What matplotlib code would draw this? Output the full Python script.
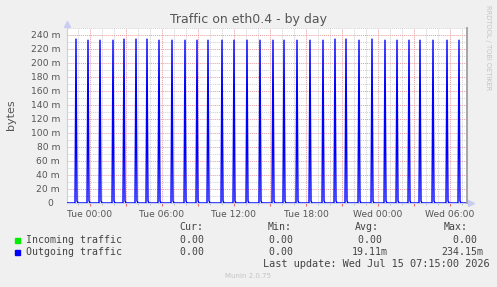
import matplotlib
matplotlib.use("Agg")
import pandas as pd
import matplotlib.pyplot as plt
import matplotlib.dates as mdates
from matplotlib.ticker import MultipleLocator, FuncFormatter

W, H = 497, 287

# time window of the graph (5 minute samples)
start = pd.Timestamp("2026-07-13 22:05")
end = pd.Timestamp("2026-07-15 07:25")

# outgoing traffic spikes, values in milli-bytes
spike_times = [
    "2026-07-13 22:50", "2026-07-13 23:50", "2026-07-14 00:50", "2026-07-14 01:55",
    "2026-07-14 02:50", "2026-07-14 03:50", "2026-07-14 04:45", "2026-07-14 05:45",
    "2026-07-14 06:50", "2026-07-14 07:55", "2026-07-14 08:55", "2026-07-14 09:50",
    "2026-07-14 11:00", "2026-07-14 12:00", "2026-07-14 13:05", "2026-07-14 14:10",
    "2026-07-14 15:15", "2026-07-14 16:10", "2026-07-14 17:15", "2026-07-14 18:20",
    "2026-07-14 19:25", "2026-07-14 20:25", "2026-07-14 21:20", "2026-07-14 22:25",
    "2026-07-14 23:30", "2026-07-15 00:35", "2026-07-15 01:35", "2026-07-15 02:35",
    "2026-07-15 03:30", "2026-07-15 04:35", "2026-07-15 05:45", "2026-07-15 06:45",
]
spike_peaks_m = [
    234.15, 232.6, 232.6, 232.6, 234.15, 234.15, 234.15, 232.6,
    232.6, 232.6, 232.6, 232.6, 232.6, 232.6, 232.6, 232.6,
    232.6, 232.6, 232.6, 232.6, 232.6, 234.15, 234.15, 232.6,
    234.15, 232.6, 232.6, 232.6, 232.6, 232.6, 232.6, 232.6,
]
tail_m = 3.0
incoming_m = 0.0

legend_names = ["Incoming traffic", "Outgoing traffic"]
legend_colors = ["#00ee00", "#0000ff"]
col_heads = ["Cur:", "Min:", "Avg:", "Max:"]
col_values = [
    ["0.00 ", "0.00 ", "0.00 ", "0.00 "],
    ["0.00 ", "0.00 ", "19.11m", "234.15m"],
]
last_update = "Last update: Wed Jul 15 07:15:00 2026"

idx = pd.date_range(start, end, freq="5min")
outgoing = pd.Series(0.0, index=idx)
for t, v in zip(spike_times, spike_peaks_m):
    ts = pd.Timestamp(t)
    outgoing[ts] = v
    outgoing[ts + pd.Timedelta("5min")] = tail_m
incoming = pd.Series(incoming_m, index=idx)


def px(x, y):
    return x / W, 1 - y / H


fig = plt.figure(figsize=(W / 100, H / 100), dpi=100, facecolor="#f0f0f0")
ax = fig.add_axes([67 / W, 1 - 203 / H, 400 / W, 175 / H])
ax.set_facecolor("white")

ax.plot(idx, incoming.values, color=legend_colors[0], lw=0.9, zorder=3)
ax.plot(idx, outgoing.values, color=legend_colors[1], lw=1.0, zorder=4)

ax.set_xlim(start, end)
ax.set_ylim(0, 250)

# grid
ax.yaxis.set_major_locator(MultipleLocator(20))
ax.yaxis.set_minor_locator(MultipleLocator(10))
ax.yaxis.set_major_formatter(FuncFormatter(lambda v, p: "0  " if v == 0 else f"{v:.0f} m"))
ax.xaxis.set_major_locator(mdates.HourLocator(byhour=range(0, 24, 3)))
ax.xaxis.set_minor_locator(mdates.HourLocator())


def xfmt(v, p):
    d = mdates.num2date(v)
    return d.strftime("%a %H:%M") if d.hour % 6 == 0 else ""


ax.xaxis.set_major_formatter(FuncFormatter(xfmt))
ax.set_axisbelow(True)
ax.grid(which="minor", color="#d0d0d0", ls=(0, (1, 1)), lw=0.7)
ax.grid(which="major", color="#e89c9c", ls=(0, (1, 1)), lw=0.7)

ax.tick_params(axis="x", which="major", length=2.5, color="#e07070", labelsize=6.6,
               labelcolor="#555555", pad=2.5)
ax.tick_params(axis="x", which="minor", length=1.5, color="#c0c0c0")
ax.tick_params(axis="y", which="both", length=0, labelsize=6.6, labelcolor="#555555", pad=5)

for s in ["top", "right"]:
    ax.spines[s].set_visible(False)
for s in ["left", "bottom"]:
    ax.spines[s].set_color("#c8ccf0")
    ax.spines[s].set_linewidth(0.8)

ax.axvline(end, color="#a0a0a0", lw=1.3, clip_on=False, zorder=5)
ax.plot([0], [1.025], marker="^", ms=4, color="#c8ccf0", transform=ax.transAxes, clip_on=False)
ax.plot([1.009], [0], marker=">", ms=4, color="#c8ccf0", transform=ax.transAxes, clip_on=False)

# texts
fig.text(*px(248, 19), "Traffic on eth0.4 - by day", ha="center", va="center",
         fontsize=9, color="#555555")
fig.text(*px(11, 115), "bytes", rotation=90, ha="center", va="center",
         fontsize=8, color="#555555")
fig.text(*px(488, 5), "RRDTOOL / TOBI OETIKER", rotation=270, ha="center", va="top",
         fontsize=4.8, color="#c4c4c4")

mono = dict(family="DejaVu Sans Mono", fontsize=7.1, color="#444444", va="center")
head_right = [203, 292, 379, 468]
val_right = [210, 299, 388, 483]
for x, h in zip(head_right, col_heads):
    fig.text(*px(x, 227.5), h, ha="right", **mono)
for i, (name, c) in enumerate(zip(legend_names, legend_colors)):
    y = 240 + i * 12.3
    fig.patches.append(plt.Rectangle(px(14.5, y + 2.6), 5.5 / W, 5 / H, color=c,
                                     transform=fig.transFigure, figure=fig))
    fig.text(*px(26.5, y), name, ha="left", **mono)
    for x, v in zip(val_right, col_values[i]):
        fig.text(*px(x, y), v, ha="right", **mono)
fig.text(*px(376.5, 263.7), last_update, ha="center",
         **{**mono, "fontsize": 7.4})
fig.text(*px(248, 276), "Munin 2.0.75", ha="center", va="center", fontsize=5,
         color="#c4c4c4")

fig.savefig("out.png", dpi=100, facecolor=fig.get_facecolor())
